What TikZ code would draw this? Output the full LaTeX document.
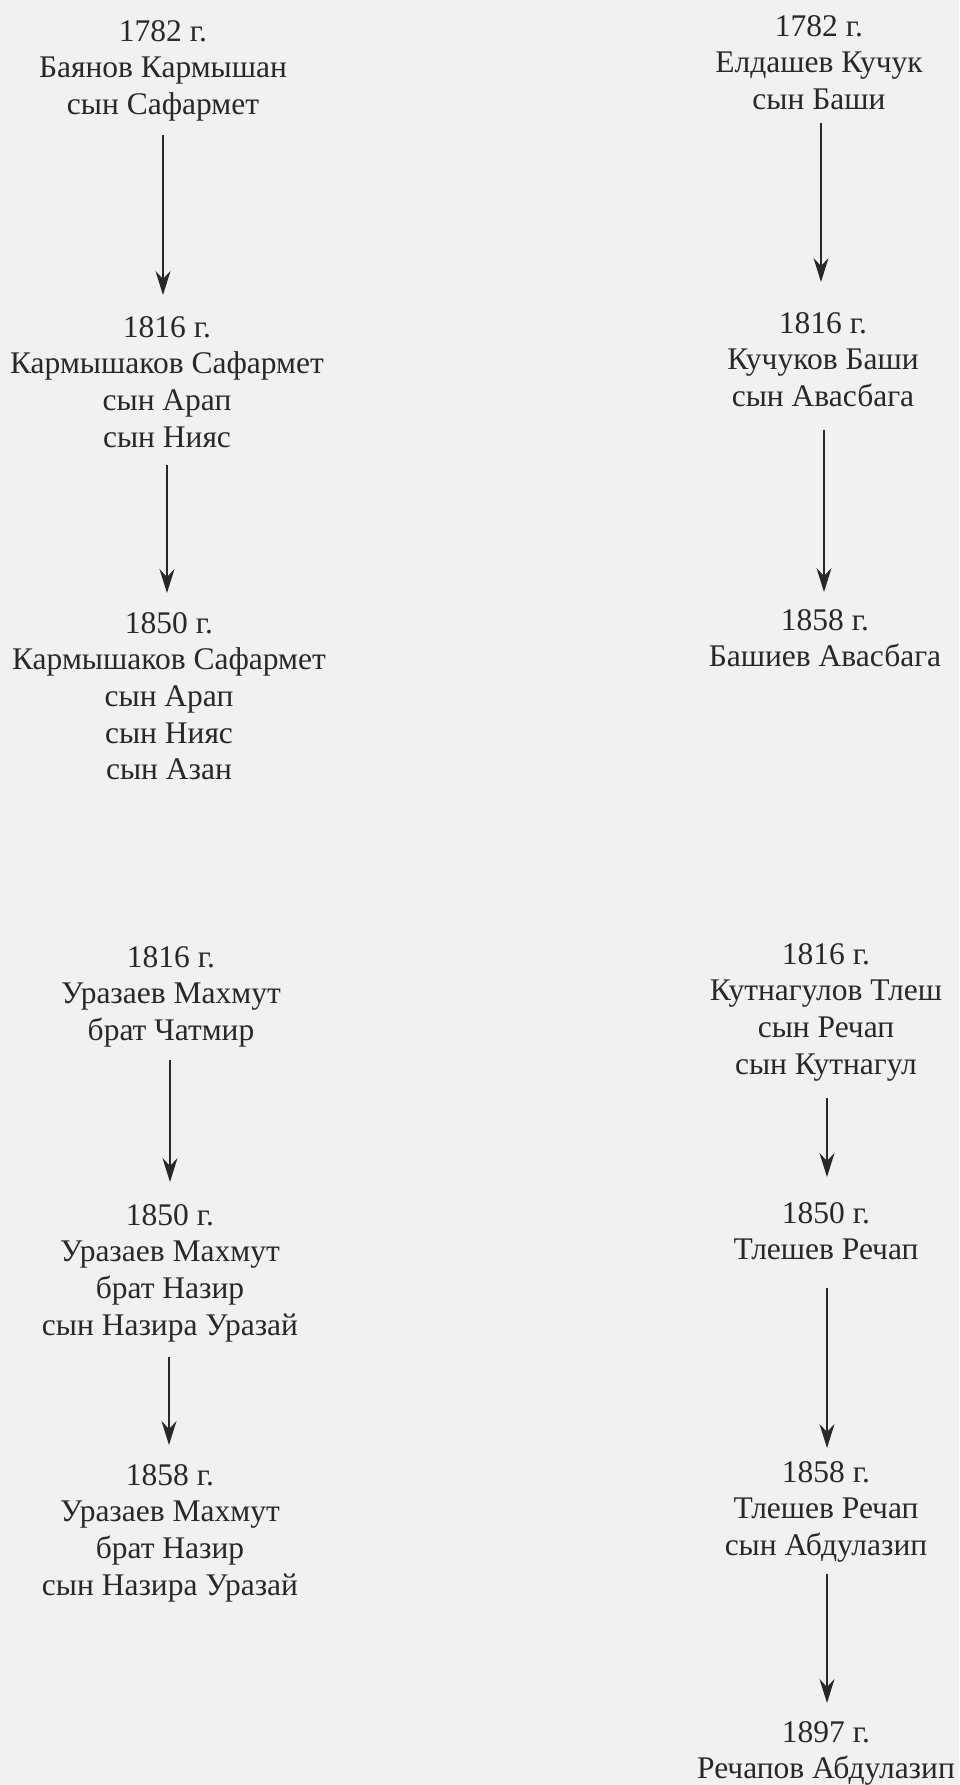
\documentclass[tikz,border=0pt]{standalone}
\usepackage{fontspec}
\setmainfont{Liberation Serif}
\usetikzlibrary{arrows.meta}
\definecolor{paper}{HTML}{F1F1F1}
\definecolor{ink}{HTML}{282828}
\newcommand\topstr{\rule{0pt}{26pt}}
\newcommand\botstr{\rule[-11pt]{0pt}{11pt}}
\begin{document}
\begin{tikzpicture}[x=1pt,y=-1pt,
  blk/.style={align=center,inner sep=0pt,anchor=north,text=ink,
    font=\fontsize{31.5}{36.6}\selectfont},
  arr/.style={draw=ink,line width=1.3pt,-{Stealth[length=24pt,width=15pt,inset=8pt]}}]
\fill[paper] (0,0) rectangle (959,1785);
\useasboundingbox (0,0) rectangle (959,1785);
% left top column
\node[blk] (a1) at (163,15) {\topstr1782 г.\\Баянов Кармышан\\сын Сафармет\botstr};
\node[blk] (a2) at (167,311) {\topstr1816 г.\\Кармышаков Сафармет\\сын Арап\\сын Нияс\botstr};
\node[blk] (a3) at (169,607) {\topstr1850 г.\\Кармышаков Сафармет\\сын Арап\\сын Нияс\\сын Азан\botstr};
% right top column
\node[blk] (b1) at (819,10) {\topstr1782 г.\\Елдашев Кучук\\сын Баши\botstr};
\node[blk] (b2) at (823,307) {\topstr1816 г.\\Кучуков Баши\\сын Авасбага\botstr};
\node[blk] (b3) at (825,604) {\topstr1858 г.\\Башиев Авасбага\botstr};
% left bottom column
\node[blk] (c1) at (171,941) {\topstr1816 г.\\Уразаев Махмут\\брат Чатмир\botstr};
\node[blk] (c2) at (170,1199) {\topstr1850 г.\\Уразаев Махмут\\брат Назир\\сын Назира Уразай\botstr};
\node[blk] (c3) at (170,1459) {\topstr1858 г.\\Уразаев Махмут\\брат Назир\\сын Назира Уразай\botstr};
% right bottom column
\node[blk] (d1) at (826,938) {\topstr1816 г.\\Кутнагулов Тлеш\\сын Речап\\сын Кутнагул\botstr};
\node[blk] (d2) at (826,1197) {\topstr1850 г.\\Тлешев Речап\botstr};
\node[blk] (d3) at (826,1456) {\topstr1858 г.\\Тлешев Речап\\сын Абдулазип\botstr};
\node[blk] (d4) at (826,1716) {\topstr1897 г.\\Речапов Абдулазип\botstr};
% arrows
\draw[arr,shorten <=9pt,shorten >=16pt] (a1.south) -- (a1.south |- a2.north);
\draw[arr,shorten <=7pt,shorten >=14pt] (a2.south) -- (a2.south |- a3.north);
\draw[arr,shorten <=2pt,shorten >=25pt] ([xshift=2pt]b1.south) -- ([xshift=2pt]b1.south |- b2.north);
\draw[arr,shorten <=12pt,shorten >=12pt] ([xshift=1pt]b2.south) -- ([xshift=1pt]b2.south |- b3.north);
\draw[arr,shorten <=8pt,shorten >=17pt] ([xshift=-1pt]c1.south) -- ([xshift=-1pt]c1.south |- c2.north);
\draw[arr,shorten <=11pt,shorten >=14pt] ([xshift=-1pt]c2.south) -- ([xshift=-1pt]c2.south |- c3.north);
\draw[arr,shorten <=13pt,shorten >=20pt] ([xshift=1pt]d1.south) -- ([xshift=1pt]d1.south |- d2.north);
\draw[arr,shorten <=17pt,shorten >=8pt] ([xshift=1pt]d2.south) -- ([xshift=1pt]d2.south |- d3.north);
\draw[arr,shorten <=7pt,shorten >=13pt] ([xshift=1pt]d3.south) -- ([xshift=1pt]d3.south |- d4.north);
\end{tikzpicture}
\end{document}
